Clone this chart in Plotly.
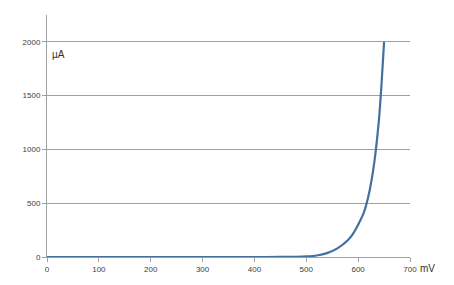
import plotly.graph_objects as go

voltage_mv = [0, 100, 200, 300, 400, 450, 480, 500, 520, 540, 560, 580, 590, 600, 610, 620, 630, 640, 645, 650]
current_ua = [0, 0, 0, 0, 0, 0.5, 2, 5, 14, 36, 80, 155, 215, 300, 400, 570, 840, 1270, 1600, 2000]

x_ticks = [0, 100, 200, 300, 400, 500, 600, 700]
y_ticks = [0, 500, 1000, 1500, 2000]

fig = go.Figure()
fig.add_trace(go.Scatter(
    x=voltage_mv, y=current_ua, mode="lines",
    line=dict(color="#43709F", width=2.2, shape="spline", smoothing=0.6),
    hoverinfo="skip", showlegend=False,
))

axis_font = dict(family="Liberation Sans, Arial, sans-serif", size=8, color="#404040")
grey = "#a0a0a0"

fig.update_layout(
    width=454, height=285,
    margin=dict(l=47, r=44, t=15, b=28),
    paper_bgcolor="white", plot_bgcolor="white",
    xaxis=dict(
        range=[0, 700], tickvals=x_ticks, ticktext=[str(v) for v in x_ticks],
        showgrid=False, zeroline=False, showline=True, linecolor=grey, linewidth=1,
        ticks="outside", ticklen=4, tickcolor=grey, tickfont=axis_font,
    ),
    yaxis=dict(
        range=[0, 2250], tickvals=y_ticks, ticktext=[str(v) for v in y_ticks],
        showgrid=True, gridcolor=grey, gridwidth=1, zeroline=False,
        showline=True, linecolor=grey, linewidth=1,
        ticks="outside", ticklen=4, tickcolor=grey, tickfont=axis_font,
    ),
    annotations=[
        dict(text="µA", xref="x", yref="y", x=22, y=1880, showarrow=False,
             font=dict(family="Liberation Sans, Arial, sans-serif", size=10, color="#303030")),
        dict(text="mV", xref="paper", yref="paper", x=1.048, y=0, yshift=-11,
             xanchor="center", yanchor="middle", showarrow=False,
             font=dict(family="Liberation Sans, Arial, sans-serif", size=10, color="#303030")),
    ],
)

fig.write_html("out.html")
